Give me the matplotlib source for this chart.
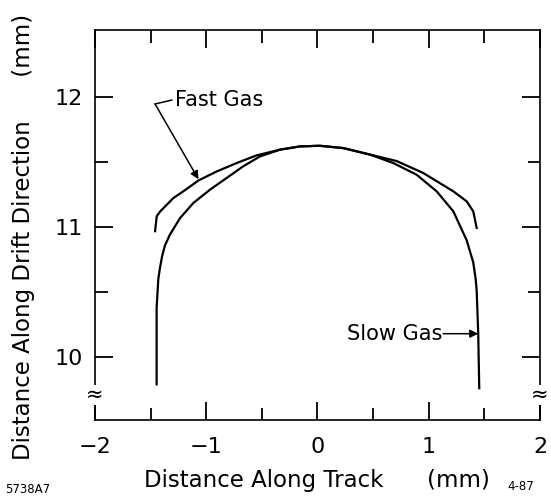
import matplotlib.pyplot as plt

# curve data, left bottom -> right bottom
slow_x = [-1.446, -1.446, -1.431, -1.416, -1.396, -1.371, -1.326, -1.236, -1.116,
          -0.966, -0.816, -0.667, -0.517, -0.337, -0.157, 0.02, 0.232, 0.472,
          0.681, 0.891, 1.071, 1.221, 1.341, 1.40, 1.422, 1.431, 1.445, 1.454]
slow_y = [9.79, 10.38, 10.60, 10.687, 10.78, 10.86, 10.944, 11.07, 11.187,
          11.29, 11.38, 11.47, 11.546, 11.598, 11.623, 11.628, 11.61, 11.56,
          11.495, 11.405, 11.277, 11.123, 10.90, 10.73, 10.60, 10.51, 10.18, 9.76]

fast_x = [-1.46, -1.445, -1.416, -1.296, -1.206, -1.071, -0.906, -0.726, -0.547,
          -0.337, -0.157, 0.02, 0.232, 0.472, 0.712, 0.951, 1.221, 1.341, 1.40, 1.431]
fast_y = [10.97, 11.085, 11.12, 11.225, 11.277, 11.36, 11.43, 11.495, 11.554,
          11.598, 11.623, 11.628, 11.61, 11.56, 11.51, 11.418, 11.277, 11.2, 11.123, 10.995]

x_ticks = [-2, -1, 0, 1, 2]
x_labels = ['\u22122', '\u22121', '0', '1', '2']
y_ticks = [10, 11, 12]

fig = plt.figure(figsize=(5.51, 4.99), dpi=100)
ax = fig.add_axes([0.1724, 0.1583, 0.8076, 0.7816])

ax.plot(slow_x, slow_y, color='black', lw=1.6, solid_joinstyle='round')
ax.plot(fast_x, fast_y, color='black', lw=1.6, solid_joinstyle='round')

ax.set_xlim(-2, 2)
ax.set_ylim(9.515, 12.52)

ax.set_xticks(x_ticks)
ax.set_xticklabels(x_labels)
ax.set_xticks([-1.5, -0.5, 0.5, 1.5], minor=True)
ax.set_yticks(y_ticks)
ax.set_yticks([10.5, 11.5], minor=True)

ax.tick_params(which='both', direction='in', top=True, right=True,
               width=1.3, labelsize=16, color='black')
ax.tick_params(which='major', length=13, pad=9)
ax.tick_params(axis='x', which='major', pad=12)
ax.tick_params(which='minor', length=9)
for s in ax.spines.values():
    s.set_linewidth(1.2)

# annotations
ax.annotate('', xy=(-1.07, 11.37), xytext=(-1.46, 11.95),
            arrowprops=dict(arrowstyle='-|>', color='black', lw=1.1,
                            mutation_scale=12, shrinkA=0, shrinkB=0))
ax.plot([-1.46, -1.31], [11.95, 11.98], color='black', lw=1.1)
ax.text(-1.28, 11.98, 'Fast Gas', fontsize=15, va='center', ha='left')

ax.annotate('', xy=(1.445, 10.18), xytext=(1.13, 10.18),
            arrowprops=dict(arrowstyle='-|>', color='black', lw=1.1,
                            mutation_scale=12, shrinkA=0, shrinkB=0))
ax.text(1.12, 10.18, 'Slow Gas', fontsize=15, va='center', ha='right')

# axis break marks
for xa in (0, 1):
    ax.text(xa, 9.71, '\u2248', transform=ax.get_yaxis_transform(),
            fontsize=15, ha='center', va='center',
            bbox=dict(facecolor='white', edgecolor='none', pad=0))

fig.text(0.575, 0.038, 'Distance Along Track      (mm)', fontsize=16.5,
         ha='center', va='center')
fig.text(0.042, 0.525, 'Distance Along Drift Direction      (mm)', fontsize=16.5,
         ha='center', va='center', rotation=90)
fig.text(0.01, 0.02, '5738A7', fontsize=8.5, ha='left', va='center')
fig.text(0.97, 0.025, '4-87', fontsize=8.5, ha='right', va='center')

fig.savefig('out.png', dpi=100)
